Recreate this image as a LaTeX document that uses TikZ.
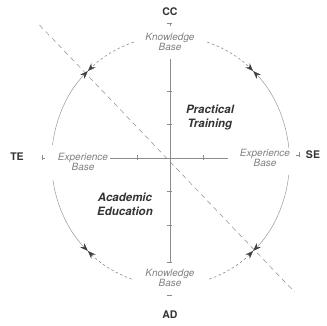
\documentclass[tikz,border=0pt]{standalone}
\usepackage{fontspec}
\setmainfont{TeX Gyre Heros}
\usetikzlibrary{arrows.meta}
\begin{document}
\begin{tikzpicture}[x=1pt,y=1pt,
  axisline/.style={draw=black!45, line width=0.5pt},
  solidarc/.style={draw=black!40, line width=0.5pt, -{Stealth[length=8pt,width=6pt,color=black!75]}},
  dotarc/.style={draw=black!45, line width=0.6pt, dash pattern=on 2.5pt off 2.5pt, -{Stealth[length=8pt,width=6pt,color=black!75]}},
  diag/.style={draw=black!45, line width=0.5pt, dash pattern=on 5pt off 4pt},
  baselabel/.style={font=\itshape\fontsize{10}{10.5}\selectfont, text=black!50, align=center, inner sep=1pt},
  endlabel/.style={font=\bfseries\fontsize{10.5}{12}\selectfont, text=black!80, inner sep=1pt},
  zonelabel/.style={font=\bfseries\itshape\fontsize{11.5}{14}\selectfont, text=black!80, align=center, inner sep=1pt}]
\useasboundingbox (-170,-168) rectangle (157,158);

% dashed diagonal
\coordinate (dA) at (-130.5,133);
\coordinate (dB) at (124.5,-134);
\draw[diag] (dA) -- (dB);

% axes
\coordinate (vT) at (0,99);
\coordinate (vB) at (0,-104);
\coordinate (hL) at (-60,0);
\coordinate (hR) at (58,0);
\draw[axisline] (vT) -- (vB);
\draw[axisline] (hL) -- (hR);
\foreach \y in {67,33.5,-33.5,-67,-104} \draw[axisline] (-2.5,\y) -- (2.5,\y);
\foreach \x in {-33,33} \draw[axisline] (\x,-2.5) -- (\x,2.5);

% end marks
\draw[axisline] (-2.5,135) -- (2.5,135) (0,135) -- (0,131.5);
\draw[axisline] (-2.5,-137) -- (2.5,-137);
\draw[axisline] (-128,-2.5) -- (-128,2.5) (-128,0) -- (-124.5,0);
\draw[axisline] (129,0.5) -- (129,5.5) (129,3) -- (126,3);

% ellipse arcs
\begin{scope}[shift={(0.5,-3)}]
  \draw[solidarc] (172.6:119 and 125) arc[start angle=172.6, end angle=134, x radius=119, y radius=125];
  \draw[solidarc] (188.7:119 and 125) arc[start angle=188.7, end angle=226, x radius=119, y radius=125];
  \draw[solidarc] (6:119 and 125) arc[start angle=6, end angle=46, x radius=119, y radius=125];
  \draw[solidarc] (-6.4:119 and 125) arc[start angle=-6.4, end angle=-46, x radius=119, y radius=125];
  \draw[dotarc] (108:119 and 125) arc[start angle=108, end angle=134, x radius=119, y radius=125];
  \draw[dotarc] (72:119 and 125) arc[start angle=72, end angle=46, x radius=119, y radius=125];
  \draw[dotarc] (251:119 and 125) arc[start angle=251, end angle=226, x radius=119, y radius=125];
  \draw[dotarc] (289:119 and 125) arc[start angle=289, end angle=314, x radius=119, y radius=125];
\end{scope}

% labels
\node[endlabel] (cc) at (0,146) {CC};
\node[endlabel] (ad) at (0,-157) {AD};
\node[endlabel] (te) at (-153,1) {TE};
\node[endlabel] (se) at (143,3) {SE};
\node[baselabel] (kbt) at (0,116) {Knowledge\\Base};
\node[baselabel] (kbb) at (0,-120) {Knowledge\\Base};
\node[baselabel] (ebl) at (-87,-4) {Experience\\Base};
\node[baselabel] (ebr) at (95,0) {Experience\\Base};
\node[zonelabel] (pt) at (40,41) {Practical\\Training};
\node[zonelabel] (ae) at (-45,-46) {Academic\\Education};
\end{tikzpicture}
\end{document}
